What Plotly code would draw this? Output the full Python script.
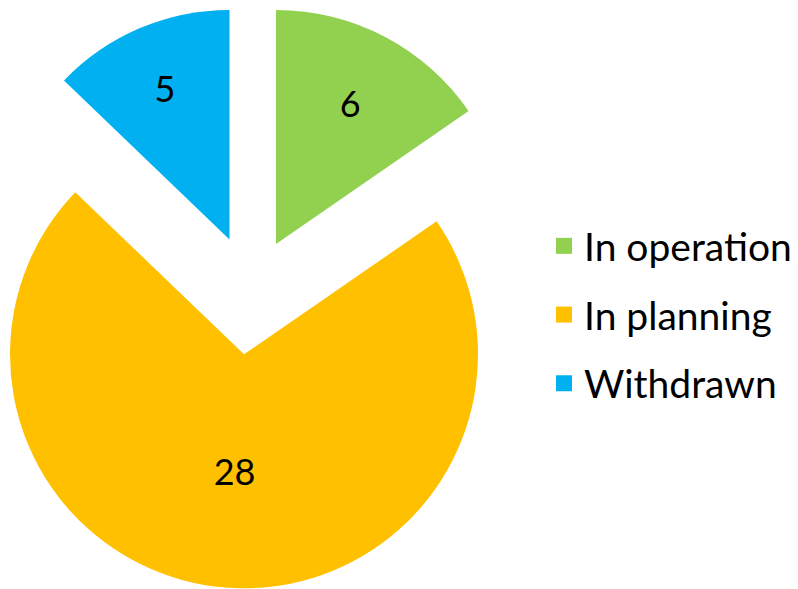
import plotly.graph_objects as go

# ---- data ----
labels = ["In operation", "In planning", "Withdrawn"]
values = [6, 28, 5]
colors = ["#92D050", "#FFC000", "#00B0F0"]

# ---- layout geometry (pixels) ----
W, H = 798, 589
FONT = "Lato, Carlito, Calibri, sans-serif"
# centre (x, y from top) and radius of each exploded slice
slice_geom = {
    "In operation": (276.0, 244.0, 234.0),
    "In planning": (244.0, 354.3, 234.0),
    "Withdrawn": (229.5, 239.5, 229.5),
}

fig = go.Figure()
for i, lab in enumerate(labels):
    cx, cy, r = slice_geom[lab]
    dom_x = [max(0.0, (cx - r) / W), min(1.0, (cx + r) / W)]
    dom_y = [max(0.0, (H - cy - r) / H), min(1.0, (H - cy + r) / H)]
    fig.add_trace(go.Pie(
        labels=labels,
        values=values,
        sort=False,
        direction="clockwise",
        rotation=0,
        marker=dict(colors=[c if j == i else "rgba(0,0,0,0)" for j, c in enumerate(colors)],
                    line=dict(width=0)),
        text=[str(v) if j == i else "" for j, v in enumerate(values)],
        textinfo="text",
        textposition="inside",
        insidetextorientation="horizontal",
        insidetextfont=dict(family=FONT, size=36, color="#000000"),
        domain=dict(x=dom_x, y=dom_y),
        showlegend=False,
        hoverinfo="skip",
    ))

# legend entries
for lab, col in zip(labels, colors):
    fig.add_trace(go.Scatter(
        x=[None], y=[None], mode="markers", name=lab,
        legendgroup=lab,
        marker=dict(symbol="square", size=16, color=col),
    ))

fig.update_layout(
    width=W, height=H,
    margin=dict(l=0, r=0, t=0, b=0),
    paper_bgcolor="white",
    plot_bgcolor="white",
    xaxis=dict(visible=False),
    yaxis=dict(visible=False),
    legend=dict(
        x=544 / W, y=(H - 315) / H, xanchor="left", yanchor="middle",
        font=dict(family=FONT, size=39, color="#000000"),
        traceorder="grouped",
        tracegroupgap=15,
        itemsizing="trace",
        bgcolor="rgba(0,0,0,0)",
    ),
)

fig.write_html("out.html")
